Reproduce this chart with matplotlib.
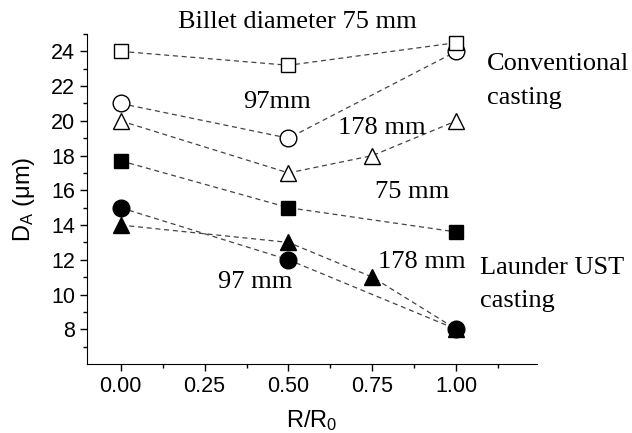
import matplotlib
matplotlib.use("Agg")
import matplotlib.pyplot as plt

plt.rcParams['font.family'] = ['Liberation Sans', 'DejaVu Sans']
plt.rcParams['mathtext.fontset'] = 'custom'
plt.rcParams['mathtext.rm'] = 'Liberation Sans'
plt.rcParams['mathtext.it'] = 'Liberation Sans'

# Conventional casting (open markers)
conv_75_x = [0.0, 0.5, 1.0]
conv_75_y = [24.0, 23.2, 24.5]
conv_97_x = [0.0, 0.5, 1.0]
conv_97_y = [21.0, 19.0, 24.0]
conv_178_x = [0.0, 0.5, 0.75, 1.0]
conv_178_y = [20.0, 17.0, 18.0, 20.0]
# Launder UST casting (filled markers)
ust_75_x = [0.0, 0.5, 1.0]
ust_75_y = [17.7, 15.0, 13.6]
ust_97_x = [0.0, 0.5, 1.0]
ust_97_y = [15.0, 12.0, 8.0]
ust_178_x = [0.0, 0.5, 0.75, 1.0]
ust_178_y = [14.0, 13.0, 11.0, 8.0]

xticks = [0.0, 0.25, 0.5, 0.75, 1.0]
xticklabels = ["0.00", "0.25", "0.50", "0.75", "1.00"]
yticks = [8, 10, 12, 14, 16, 18, 20, 22, 24]

fig = plt.figure(figsize=(6.32, 4.33), dpi=100)
ax = fig.add_axes([87/632, 1 - 364/433, (537-87)/632, (364-34)/433])

line_kw = dict(color='#444444', linestyle=(0, (4, 3)), linewidth=0.9)
series = [
    (conv_178_x, conv_178_y, '^', 'white', 12),
    (conv_97_x, conv_97_y, 'o', 'white', 12),
    (conv_75_x, conv_75_y, 's', 'white', 10.5),
    (ust_75_x, ust_75_y, 's', 'black', 10.5),
    (ust_178_x, ust_178_y, '^', 'black', 12),
    (ust_97_x, ust_97_y, 'o', 'black', 12),
]
for x, y, m, fc, ms in series:
    ax.plot(x, y, marker=m, markersize=ms, markerfacecolor=fc,
            markeredgecolor='black', markeredgewidth=1.0, **line_kw)

ax.set_xlim(-0.1, 1.24)
ax.set_ylim(6, 25)
ax.set_xticks(xticks)
ax.set_xticklabels(xticklabels)
ax.set_xticks([0.125, 0.375, 0.625, 0.875, 1.125], minor=True)
ax.set_yticks(yticks)
ax.set_yticks([7, 9, 11, 13, 15, 17, 19, 21, 23, 25], minor=True)
ax.spines['top'].set_visible(False)
ax.spines['right'].set_visible(False)
ax.tick_params(axis='both', which='major', labelsize=15.5, length=5, width=1, direction='out')
ax.tick_params(axis='both', which='minor', length=3, width=1, direction='out')
ax.set_xlabel(r"R/R$_\mathrm{0}$", fontsize=17, labelpad=8)
ax.set_ylabel(r"D$_\mathrm{A}$ ($\mathrm{\mu}$m)", fontsize=17, labelpad=10)

serif = ['Liberation Serif', 'DejaVu Serif']
tk = dict(family=serif, fontsize=19, transform=fig.transFigure)
def ft(x, y, s, ha='left', va='center'):
    fig.text(x/632, 1 - y/433, s, ha=ha, va=va, **tk)

ft(178, 22, "Billet diameter 75 mm")
ft(243, 102, "97mm")
ft(338, 128, "178 mm")
ft(487, 64, "Conventional")
ft(487, 98, "casting")
ft(375, 192, "75 mm")
ft(378, 262, "178 mm")
ft(480, 268, "Launder UST")
ft(480, 301, "casting")
ft(218, 282, "97 mm")

fig.savefig("out.png", dpi=100)
